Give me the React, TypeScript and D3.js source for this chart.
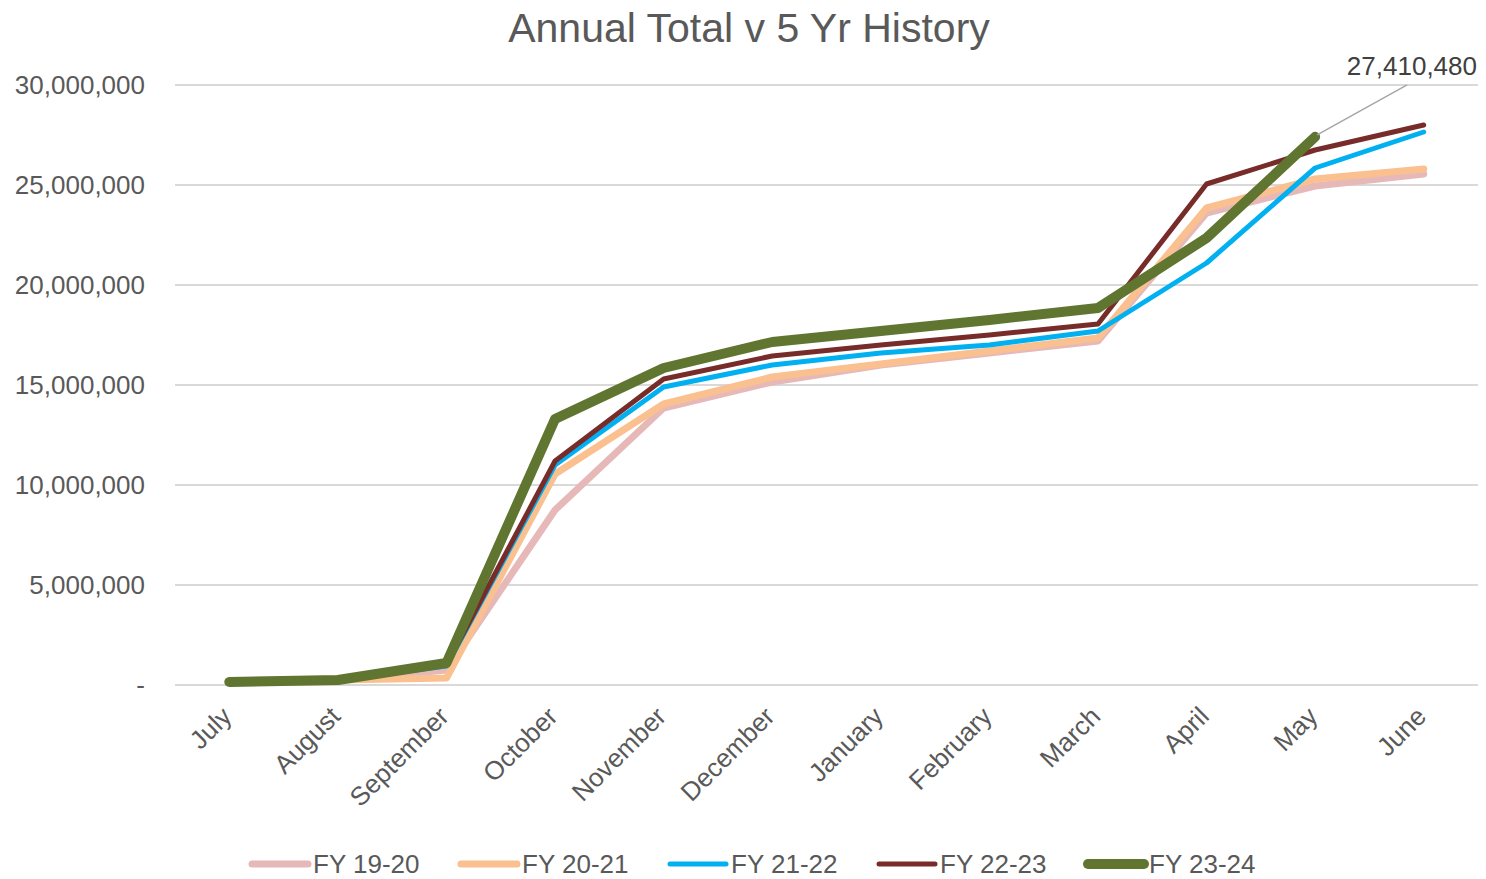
import React, { useEffect, useRef } from "react";
import * as d3 from "d3";

const months = ["July", "August", "September", "October", "November", "December", "January", "February", "March", "April", "May", "June"];

const fy1920 = [150000, 250000, 750000, 8750000, 13850000, 15150000, 16000000, 16600000, 17200000, 23600000, 24950000, 25550000];
const fy2021 = [150000, 250000, 350000, 10550000, 14050000, 15400000, 16050000, 16700000, 17350000, 23850000, 25300000, 25800000];
const fy2122 = [150000, 250000, 950000, 11000000, 14900000, 16000000, 16600000, 17000000, 17700000, 21100000, 25850000, 27650000];
const fy2223 = [150000, 250000, 1000000, 11200000, 15300000, 16450000, 17000000, 17500000, 18050000, 25050000, 26750000, 28000000];
const fy2324 = [150000, 250000, 1100000, 13300000, 15850000, 17150000, 17700000, 18250000, 18850000, 22350000, 27410480];

const seriesNames = ["FY 19-20", "FY 20-21", "FY 21-22", "FY 22-23", "FY 23-24"];
const seriesColors = ["#E6B9B8", "#FAC090", "#00B0F0", "#772C2A", "#5F7530"];
const seriesWidths = [7, 7, 5, 5, 10];
const yTicks = [0, 5000000, 10000000, 15000000, 20000000, 25000000, 30000000];

const App = () => {
  const svgRef = useRef<SVGSVGElement>(null);

  useEffect(() => {
    const width = 1486;
    const height = 879;
    const margin = { top: 85, left: 175, right: 8, bottom: 194 };
    const font = "Liberation Sans, Arial, sans-serif";
    const textColor = "#595959";
    const fs = 26;

    const svg = d3.select(svgRef.current)
      .attr("width", width)
      .attr("height", height)
      .style("font-family", font);
    svg.selectAll("*").remove();

    const x = d3.scalePoint()
      .domain(months)
      .range([margin.left, width - margin.right])
      .padding(0.5);

    const y = d3.scaleLinear()
      .domain([0, 30000000])
      .range([height - margin.bottom, margin.top]);

    // gridlines
    svg.append("g")
      .selectAll("line")
      .data(yTicks)
      .join("line")
      .attr("x1", margin.left)
      .attr("x2", width - margin.right)
      .attr("y1", d => y(d))
      .attr("y2", d => y(d))
      .attr("stroke", "#D9D9D9")
      .attr("stroke-width", 2);

    // y labels
    svg.append("g")
      .selectAll("text")
      .data(yTicks)
      .join("text")
      .attr("x", 145)
      .attr("y", d => y(d))
      .attr("dy", "0.35em")
      .attr("text-anchor", "end")
      .attr("font-size", fs)
      .attr("fill", textColor)
      .text(d => (d === 0 ? "-" : d3.format(",")(d)));

    // x labels
    svg.append("g")
      .selectAll("text")
      .data(months)
      .join("text")
      .attr("transform", d => `translate(${(x(d) as number) + 4},${y(0) + 33}) rotate(-45)`)
      .attr("text-anchor", "end")
      .attr("font-size", fs)
      .attr("fill", textColor)
      .text(d => d);

    const allSeries = [fy1920, fy2021, fy2122, fy2223, fy2324];

    const line = d3.line<number>()
      .x((_, i) => x(months[i]) as number)
      .y(d => y(d));

    allSeries.forEach((s, i) => {
      svg.append("path")
        .datum(s)
        .attr("d", line)
        .attr("fill", "none")
        .attr("stroke", seriesColors[i])
        .attr("stroke-width", seriesWidths[i])
        .attr("stroke-linejoin", "round")
        .attr("stroke-linecap", "round");
    });

    // data label for the last point of FY 23-24
    const lastIdx = fy2324.length - 1;
    const lx = x(months[lastIdx]) as number;
    const ly = y(fy2324[lastIdx]);
    svg.append("line")
      .attr("x1", lx + 2)
      .attr("y1", ly - 2)
      .attr("x2", lx + 92)
      .attr("y2", ly - 52)
      .attr("stroke", "#A6A6A6")
      .attr("stroke-width", 1.5);
    svg.append("text")
      .attr("x", width - 9)
      .attr("y", ly - 62)
      .attr("text-anchor", "end")
      .attr("font-size", fs)
      .attr("fill", "#404040")
      .text(d3.format(",")(fy2324[lastIdx]));

    // title
    svg.append("text")
      .attr("x", 749)
      .attr("y", 42)
      .attr("text-anchor", "middle")
      .attr("font-size", 41)
      .attr("fill", textColor)
      .text("Annual Total v 5 Yr History");

    // legend
    const legend = svg.append("g")
      .selectAll("g")
      .data(seriesNames)
      .join("g")
      .attr("transform", (_, i) => `translate(${252 + i * 209},864)`);
    legend.append("line")
      .attr("x1", 0)
      .attr("x2", 56)
      .attr("stroke", (_, i) => seriesColors[i])
      .attr("stroke-width", (_, i) => seriesWidths[i])
      .attr("stroke-linecap", "round");
    legend.append("text")
      .attr("x", 61)
      .attr("dy", "0.35em")
      .attr("font-size", fs)
      .attr("fill", textColor)
      .text(d => d);
  }, []);

  return <svg ref={svgRef} style={{ display: "block", position: "absolute", left: 0, top: 0 }} />;
};

export default App;
